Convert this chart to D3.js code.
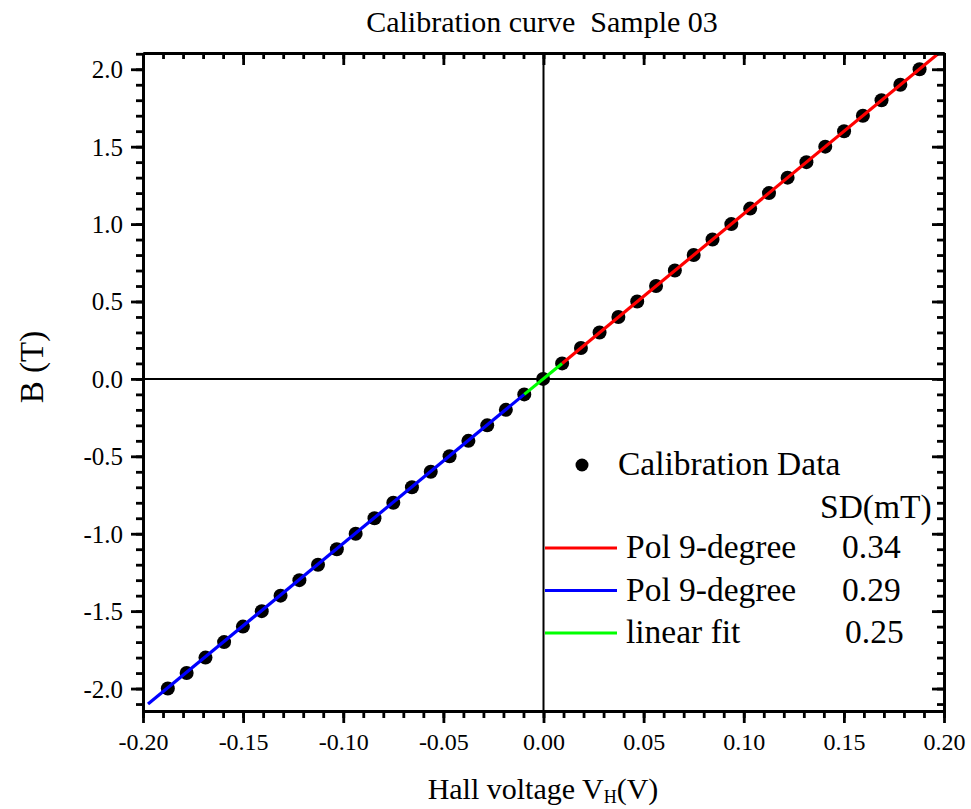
<!DOCTYPE html>
<html>
<head>
<meta charset="utf-8">
<script src="https://cdn.jsdelivr.net/npm/d3@7"></script>
<style>
  body { margin: 0; background: #fff; }
  text { font-family: "Liberation Serif", "Times New Roman", serif; fill: #000; }
</style>
</head>
<body>
<svg id="chart" width="971" height="809"></svg>
<script>
// calibration points: Hall voltage (V) vs field (T)
var hallV = [-0.1876, -0.1782, -0.1688, -0.1595, -0.1501, -0.1407, -0.1313, -0.1219, -0.1126, -0.1032,
             -0.0938, -0.0844, -0.0750, -0.0657, -0.0563, -0.0469, -0.0375, -0.0281, -0.0188, -0.0096,
             -0.0002,
              0.0093,  0.0187,  0.0280,  0.0374,  0.0468,  0.0562,  0.0656,  0.0750,  0.0844,  0.0938,
              0.1032,  0.1126,  0.1219,  0.1313,  0.1407,  0.1501,  0.1595,  0.1688,  0.1782,  0.1878];
var fieldB = [-2.0, -1.9, -1.8, -1.7, -1.6, -1.5, -1.4, -1.3, -1.2, -1.1,
              -1.0, -0.9, -0.8, -0.7, -0.6, -0.5, -0.4, -0.3, -0.2, -0.1,
               0.0,
               0.1,  0.2,  0.3,  0.4,  0.5,  0.6,  0.7,  0.8,  0.9,  1.0,
               1.1,  1.2,  1.3,  1.4,  1.5,  1.6,  1.7,  1.8,  1.9,  2.0];

// fitted curves (end points)
var redFitV = [0.0093, 0.1975];
var redFitB = [0.1, 2.105];
var blueFitV = [-0.1975, -0.0096];
var blueFitB = [-2.10, -0.1];
var greenFitV = [-0.0096, 0.0093];
var greenFitB = [-0.1, 0.1];

var xTicks = [-0.20, -0.15, -0.10, -0.05, 0.00, 0.05, 0.10, 0.15, 0.20];
var yTicks = [-2.0, -1.5, -1.0, -0.5, 0.0, 0.5, 1.0, 1.5, 2.0];

var legendLabels = ['Pol 9-degree', 'Pol 9-degree', 'linear fit'];
var legendSD = ['0.34', '0.29', '0.25'];
var legendColors = ['#ff0000', '#0000ff', '#00ff00'];

var plotLeft = 143, plotRight = 944, plotTop = 53, plotBottom = 711;

var svg = d3.select('#chart');

var x = d3.scaleLinear().domain([-0.2, 0.2]).range([plotLeft, plotRight]);
var y = d3.scaleLinear().domain([-2.145, 2.105]).range([plotBottom, plotTop]);

var xMinor = d3.range(-20, 21).map(function (d) { return d / 100; });
var yMinor = d3.range(-21, 22).map(function (d) { return d / 10; });

svg.append('clipPath').attr('id', 'plotClip')
    .append('rect')
    .attr('x', plotLeft).attr('y', plotTop)
    .attr('width', plotRight - plotLeft).attr('height', plotBottom - plotTop);

// zero cross lines
svg.append('line')
    .attr('x1', x(0)).attr('x2', x(0)).attr('y1', plotTop).attr('y2', plotBottom)
    .attr('stroke', '#000').attr('stroke-width', 2);
svg.append('line')
    .attr('x1', plotLeft).attr('x2', plotRight).attr('y1', y(0)).attr('y2', y(0))
    .attr('stroke', '#000').attr('stroke-width', 2);

var plot = svg.append('g').attr('clip-path', 'url(#plotClip)');

plot.selectAll('circle.pt')
    .data(hallV)
    .enter().append('circle')
    .attr('class', 'pt')
    .attr('cx', function (d) { return x(d); })
    .attr('cy', function (d, i) { return y(fieldB[i]); })
    .attr('r', 7)
    .attr('fill', '#000');

var line = d3.line()
    .x(function (d) { return x(d[0]); })
    .y(function (d) { return y(d[1]); });

function drawFit(vs, bs, color) {
    plot.append('path')
        .datum(d3.zip(vs, bs))
        .attr('d', line)
        .attr('fill', 'none')
        .attr('stroke', color)
        .attr('stroke-width', 3.2);
}
drawFit(blueFitV, blueFitB, legendColors[1]);
drawFit(redFitV, redFitB, legendColors[0]);
drawFit(greenFitV, greenFitB, legendColors[2]);

// axes
function styleAxis(g) {
    g.selectAll('path.domain').attr('stroke', '#000').attr('stroke-width', 2.8);
    g.selectAll('.tick line').attr('stroke', '#000').attr('stroke-width', 2.8);
    g.selectAll('text').style('font-family', '"Liberation Serif", serif');
}

// plain hyphen for negatives, as in the original
var fmt2 = function (d) { return d.toFixed(2); };
var fmt1 = function (d) { return d.toFixed(1); };

svg.append('g').attr('transform', 'translate(0,' + plotBottom + ')')
    .call(d3.axisBottom(x).tickValues(xMinor).tickFormat('').tickSize(7).tickSizeOuter(0))
    .call(styleAxis);
svg.append('g').attr('transform', 'translate(0,' + plotBottom + ')')
    .call(d3.axisBottom(x).tickValues(xTicks).tickFormat(fmt2).tickSize(12).tickSizeOuter(0).tickPadding(10))
    .call(styleAxis)
    .selectAll('text').style('font-size', '24px');

svg.append('g').attr('transform', 'translate(0,' + plotTop + ')')
    .call(d3.axisTop(x).tickValues(xMinor).tickFormat('').tickSize(-6).tickSizeOuter(0))
    .call(styleAxis);
svg.append('g').attr('transform', 'translate(0,' + plotTop + ')')
    .call(d3.axisTop(x).tickValues(xTicks).tickFormat('').tickSize(-12).tickSizeOuter(0))
    .call(styleAxis);

svg.append('g').attr('transform', 'translate(' + plotLeft + ',0)')
    .call(d3.axisLeft(y).tickValues(yMinor).tickFormat('').tickSize(7).tickSizeOuter(0))
    .call(styleAxis);
svg.append('g').attr('transform', 'translate(' + plotLeft + ',0)')
    .call(d3.axisLeft(y).tickValues(yTicks).tickFormat(fmt1).tickSize(12).tickSizeOuter(0).tickPadding(8))
    .call(styleAxis)
    .selectAll('text').style('font-size', '25px').attr('dy', '0.34em');

svg.append('g').attr('transform', 'translate(' + plotRight + ',0)')
    .call(d3.axisRight(y).tickValues(yMinor).tickFormat('').tickSize(-7).tickSizeOuter(0))
    .call(styleAxis);
svg.append('g').attr('transform', 'translate(' + plotRight + ',0)')
    .call(d3.axisRight(y).tickValues(yTicks).tickFormat('').tickSize(-12).tickSizeOuter(0))
    .call(styleAxis);

// titles
svg.append('text')
    .attr('x', 542).attr('y', 32)
    .attr('text-anchor', 'middle')
    .style('white-space', 'pre')
    .style('font-size', '30px')
    .text('Calibration curve  Sample 03');

svg.append('text')
    .attr('transform', 'translate(43,367) rotate(-90)')
    .attr('text-anchor', 'middle')
    .style('font-size', '33px')
    .text('B (T)');

var xt = svg.append('text')
    .attr('x', 543).attr('y', 799)
    .attr('text-anchor', 'middle')
    .style('font-size', '30px');
xt.append('tspan').text('Hall voltage V');
xt.append('tspan').attr('dy', 4).style('font-size', '18px').text('H');
xt.append('tspan').attr('dy', -4).text('(V)');

// legend
svg.append('circle').attr('cx', 582).attr('cy', 465).attr('r', 6.5).attr('fill', '#000');
svg.append('text').attr('x', 618).attr('y', 475).style('font-size', '33.5px').text('Calibration Data');
svg.append('text').attr('x', 820).attr('y', 518).style('font-size', '33.5px').text('SD(mT)');

var rowY = d3.scaleLinear().domain([0, 2]).range([548, 633]);
legendLabels.forEach(function (lab, i) {
    var ly = rowY(i);
    svg.append('line')
        .attr('x1', 545).attr('x2', 617).attr('y1', ly).attr('y2', ly)
        .attr('stroke', legendColors[i]).attr('stroke-width', 3);
    svg.append('text').attr('x', 626).attr('y', ly + 10)
        .style('font-size', '33.5px').text(lab);
    svg.append('text').attr('x', i === 2 ? 845 : 842).attr('y', ly + 10)
        .style('font-size', '33.5px').text(legendSD[i]);
});
</script>
</body>
</html>
